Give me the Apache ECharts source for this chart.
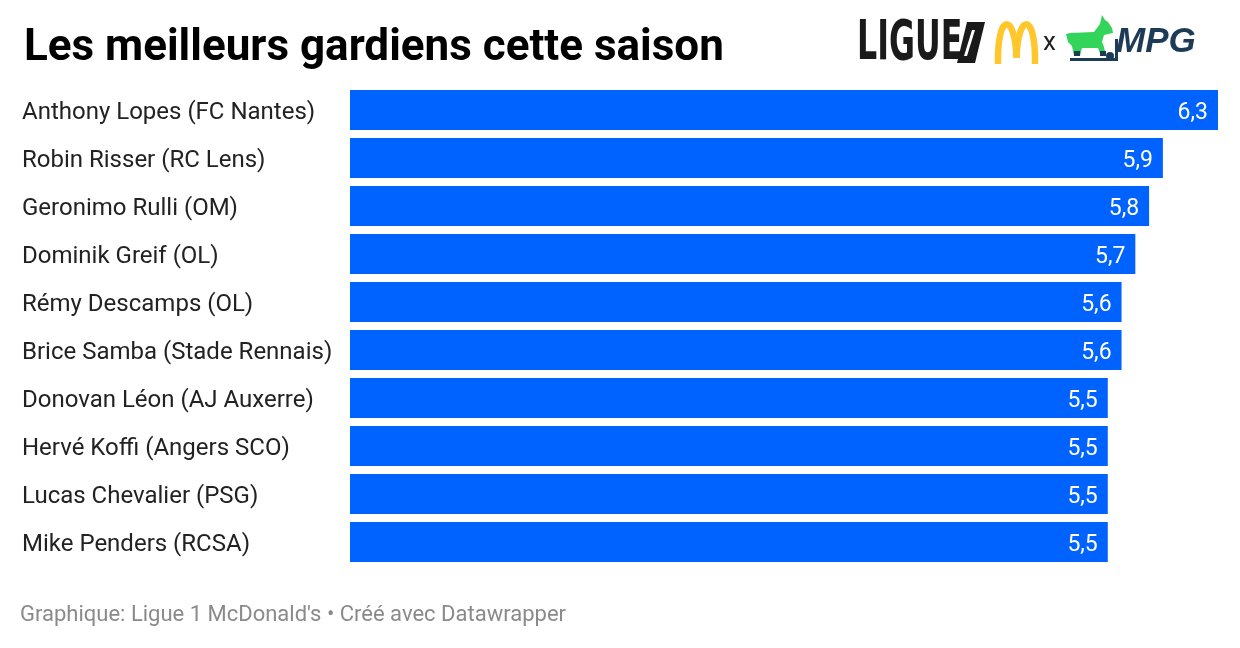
<!DOCTYPE html>
<html>
<head>
<meta charset="utf-8">
<script src="https://cdn.jsdelivr.net/npm/echarts@6/dist/echarts.min.js"></script>
<style>
html,body{margin:0;padding:0;background:#fff;}
#chart{width:1240px;height:648px;}
</style>
</head>
<body>
<div id="chart"></div>
<script>
const titleText = "Les meilleurs gardiens cette saison";
const footerText = "Graphique: Ligue 1 McDonald's \u2022 Cr\u00e9\u00e9 avec Datawrapper";
const players = [
  "Anthony Lopes (FC Nantes)",
  "Robin Risser (RC Lens)",
  "Geronimo Rulli (OM)",
  "Dominik Greif (OL)",
  "Rémy Descamps (OL)",
  "Brice Samba (Stade Rennais)",
  "Donovan Léon (AJ Auxerre)",
  "Hervé Koffi (Angers SCO)",
  "Lucas Chevalier (PSG)",
  "Mike Penders (RCSA)"
];
const ratings = [6.3, 5.9, 5.8, 5.7, 5.6, 5.6, 5.5, 5.5, 5.5, 5.5];

const chart = echarts.init(document.getElementById('chart'), null, {renderer: 'canvas'});
const FONT = 'Roboto, "Noto Sans", sans-serif';
const NAVY = '#1d3b57';

const goatPts = [[1066,34],[1070,33],[1094,32],[1100,24],[1102,15],[1105,20],[1108,22],[1112,28],[1113,33],[1108,34],[1104,35],[1102,42],[1104,47],[1106,56],[1101,56],[1098,48],[1082,48],[1080,56],[1074,56],[1072,46],[1068,42]];

const option = {
  animation: false,
  backgroundColor: '#ffffff',
  title: {
    text: titleText,
    left: 19,
    top: 22,
    textStyle: {fontFamily: FONT, fontWeight: 'bold', fontSize: 44, color: '#000'}
  },
  grid: {left: 350, right: 22, top: 86, bottom: 82, containLabel: false},
  xAxis: {
    type: 'value', min: 0, max: 6.3, show: false
  },
  yAxis: {
    type: 'category', data: players, inverse: true,
    axisLine: {show: false}, axisTick: {show: false},
    axisLabel: {
      align: 'left', margin: 328,
      formatter: v => '{a|' + v + '}',
      rich: {a: {fontFamily: FONT, fontSize: 24, color: '#222', padding: [6, 0, 0, 0], align: 'left'}}
    }
  },
  series: [{
    type: 'bar',
    data: ratings,
    barCategoryGap: '16.7%',
    itemStyle: {color: '#0062ff'},
    label: {
      show: true, position: 'insideRight', distance: 10, offset: [0, 3],
      fontFamily: FONT, fontSize: 23, color: '#fff',
      formatter: p => p.value.toFixed(1).replace('.', ',')
    }
  }],
  graphic: [
    {type: 'text', x: 20, y: 604,
     style: {text: footerText, font: '22px ' + FONT, fill: '#8a8a8a'}},
    // logo: LIGUE 1
    {type: 'text', x: 857, y: 17, scaleX: 0.64,
     style: {text: 'LIGUE', font: 'bold 55px "Liberation Sans Narrow", "DejaVu Sans Condensed", sans-serif', fill: '#1a1a1a'}},
    {type: 'polygon', shape: {points: [[967,22],[985,22],[975,63],[957,63]]}, style: {fill: '#1a1a1a'}},
    {type: 'polygon', shape: {points: [[972,30],[975,30],[967,56],[964,56]]}, style: {fill: '#fff'}},
    // McDonald's arches
    {type: 'bezierCurve', shape: {x1: 998, y1: 64, x2: 1016.5, y2: 58, cpx1: 997, cpy1: 12, cpx2: 1015, cpy2: 12},
     style: {stroke: '#ffc72c', lineWidth: 6.5, fill: null}},
    {type: 'bezierCurve', shape: {x1: 1016.5, y1: 58, x2: 1035, y2: 64, cpx1: 1018, cpy1: 12, cpx2: 1036, cpy2: 12},
     style: {stroke: '#ffc72c', lineWidth: 6.5, fill: null}},
    // x
    {type: 'text', x: 1043, y: 30, style: {text: 'x', font: '26px ' + FONT, fill: '#222'}},
    // goat
    {type: 'polygon', shape: {points: goatPts}, style: {fill: '#33d45a'}},
    {type: 'rect', shape: {x: 1074, y: 51, width: 6, height: 5}, style: {fill: NAVY}},
    {type: 'rect', shape: {x: 1100, y: 51, width: 6, height: 5}, style: {fill: NAVY}},
    {type: 'rect', shape: {x: 1070, y: 58, width: 48, height: 3}, style: {fill: NAVY}},
    {type: 'rect', shape: {x: 1115, y: 39, width: 3, height: 22}, style: {fill: NAVY}},
    {type: 'circle', shape: {cx: 1110, cy: 56, r: 4}, style: {fill: NAVY}},
    // MPG
    {type: 'text', x: 1116, y: 25,
     style: {text: 'MPG', font: 'italic bold 35px "Liberation Sans", Arial, sans-serif', fill: NAVY}}
  ]
};
chart.setOption(option);
</script>
</body>
</html>
